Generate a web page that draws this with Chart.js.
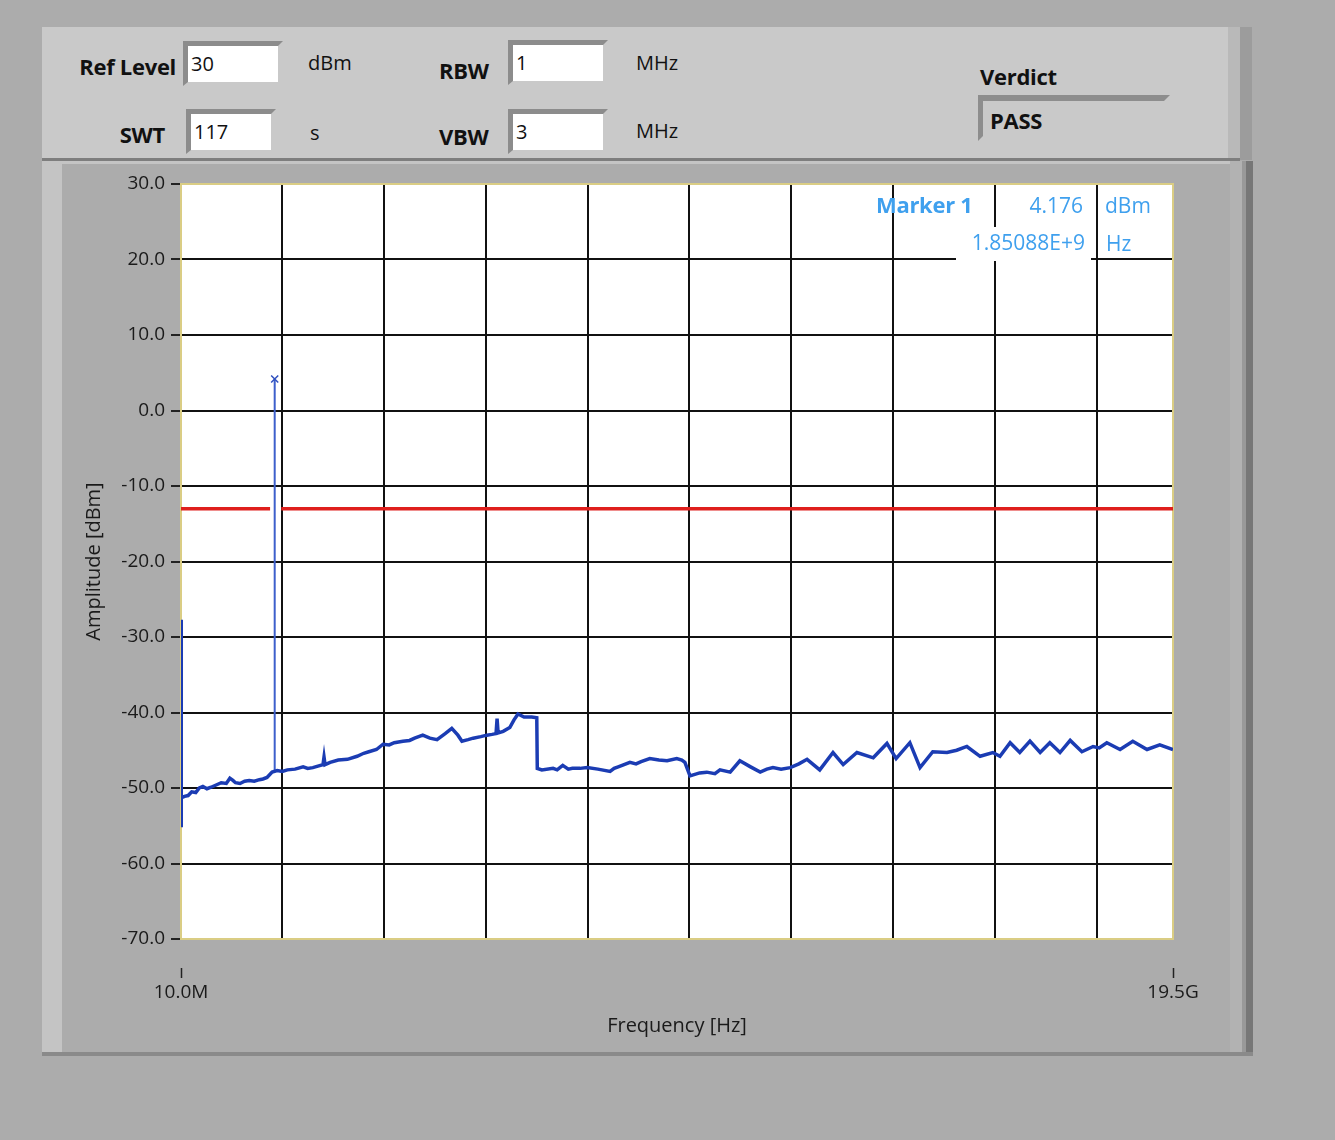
<!DOCTYPE html>
<html>
<head>
<meta charset="utf-8">
<script src="https://cdn.jsdelivr.net/npm/chart.js@4.4.1/dist/chart.umd.min.js"></script>
<style>
  html, body { margin: 0; padding: 0; }
  body {
    width: 1335px; height: 1140px; overflow: hidden; position: relative;
    background: #acacac; font-family: 'Open Sans', 'Noto Sans', sans-serif; color: #111;
  }
  .abs { position: absolute; }
  .lbl { position: absolute; font-size: 20px; line-height: 24px; white-space: nowrap; }
  .b { font-weight: bold; font-size: 22px; letter-spacing: -0.3px; }
  .field {
    position: absolute; box-sizing: border-box; background: #fff; background-clip: padding-box;
    border-top: 5px solid #8c8c8c; border-left: 5px solid #8c8c8c;
    border-right: 5px solid transparent; border-bottom: 4px solid transparent;
    font-size: 20px; line-height: 36px; padding-left: 3px;
  }
  .readout { position: absolute; color: #3fa0ee; font-size: 21px; line-height: 30px; white-space: nowrap; box-sizing: border-box; }
  .readout.bg { background: #fff; }
</style>
</head>
<body>
<!-- instrument frame -->
<div class="abs" style="left:42px;top:27px;width:1188px;height:133px;background:#c9c9c9;"></div>
<div class="abs" style="left:1228px;top:27px;width:12px;height:133px;background:#b9b9b9;"></div>
<div class="abs" style="left:1240px;top:27px;width:12px;height:133px;background:#9c9c9c;"></div>
<div class="abs" style="left:42px;top:158px;width:1198px;height:3px;background:#7e7e7e;"></div>
<div class="abs" style="left:42px;top:161px;width:1188px;height:4px;background:#c4c4c4;"></div>
<div class="abs" style="left:42px;top:161px;width:20px;height:892px;background:#c4c4c4;"></div>
<div class="abs" style="left:1230px;top:161px;width:12px;height:892px;background:#b2b2b2;"></div>
<div class="abs" style="left:1242px;top:161px;width:4px;height:892px;background:#999;"></div>
<div class="abs" style="left:1246px;top:161px;width:7px;height:895px;background:#777;"></div>
<div class="abs" style="left:42px;top:1052px;width:1211px;height:4px;background:#8a8a8a;"></div>

<!-- control panel -->
<div class="lbl b" style="left:30px;width:146px;text-align:right;top:54px;">Ref Level</div>
<div class="field" style="left:183px;top:41px;width:100px;height:45px;">30</div>
<div class="lbl" style="left:308px;top:51px;">dBm</div>

<div class="lbl b" style="left:40px;width:125px;text-align:right;top:122px;">SWT</div>
<div class="field" style="left:186px;top:109px;width:90px;height:45px;">117</div>
<div class="lbl" style="left:310px;top:121px;">s</div>

<div class="lbl b" style="left:439px;top:58px;">RBW</div>
<div class="field" style="left:508px;top:40px;width:100px;height:45px;">1</div>
<div class="lbl" style="left:636px;top:51px;">MHz</div>

<div class="lbl b" style="left:439px;top:124px;">VBW</div>
<div class="field" style="left:508px;top:109px;width:100px;height:45px;">3</div>
<div class="lbl" style="left:636px;top:119px;">MHz</div>

<div class="lbl b" style="left:980px;top:64px;">Verdict</div>
<div class="abs" style="left:978px;top:95px;width:192px;height:46px;box-sizing:border-box;border-top:6px solid #8d8d8d;border-left:5px solid #8d8d8d;border-right:6px solid transparent;border-bottom:5px solid transparent;"></div>
<div class="lbl b" style="left:990px;top:108px;" id="verdict"></div>

<!-- chart -->
<div class="abs" style="left:62px;top:164px;width:1168px;height:888px;background:#acacac;">
  <canvas id="spectrum"></canvas>
</div>

<!-- marker readout -->
<div class="readout" id="mk-name" style="left:876px;top:189px;font-weight:bold;font-size:22px;letter-spacing:-0.3px;"></div>
<div class="readout bg" id="mk-level" style="left:1000px;top:190px;width:91px;height:32px;text-align:right;padding-right:8px;"></div>
<div class="readout bg" style="left:1100px;top:190px;width:62px;height:32px;padding-left:5px;">dBm</div>
<div class="readout bg" id="mk-freq" style="left:956px;top:227px;width:135px;height:34px;text-align:right;padding-right:6px;"></div>
<div class="readout bg" style="left:1100px;top:228px;width:45px;height:28px;padding-left:6px;">Hz</div>

<script>
// sweep trace (GHz / dBm)
const traceFreqGHz = [
  0.01, 0.01, 0.02, 0.08, 0.15, 0.22, 0.30, 0.37, 0.44, 0.52, 0.60, 0.70, 0.80, 0.90, 0.97, 1.03, 1.08, 1.17,
  1.26, 1.35, 1.45, 1.55, 1.62, 1.70, 1.80, 1.90, 2.00, 2.10, 2.25, 2.41, 2.50, 2.60, 2.70, 2.80, 2.82, 2.84,
  2.94, 3.10, 3.28, 3.47, 3.60, 3.70, 3.85, 3.98, 4.10, 4.20, 4.37, 4.50, 4.60, 4.76, 4.90, 5.04, 5.20, 5.33,
  5.45, 5.53, 5.65, 5.75, 5.90, 6.02, 6.12, 6.20, 6.22, 6.24, 6.34, 6.47, 6.55, 6.63, 6.75, 6.90, 7.00,
  7.01, 7.10, 7.32, 7.40, 7.51, 7.62, 7.70, 7.85, 7.99, 8.20, 8.44, 8.52, 8.60, 8.83, 8.95, 9.05, 9.22, 9.40,
  9.56, 9.75, 9.85, 9.91, 10.01, 10.20, 10.34, 10.50, 10.60, 10.80, 10.99, 11.20, 11.39, 11.52, 11.64, 11.80,
  11.98, 12.15, 12.31, 12.56, 12.82, 13.02, 13.29, 13.61, 13.88, 14.06, 14.33, 14.53, 14.78, 15.06, 15.25,
  15.45, 15.71, 15.96, 16.10, 16.30, 16.49, 16.69, 16.89, 17.08, 17.28, 17.48, 17.71, 17.93, 18.05, 18.20,
  18.46, 18.71, 18.99, 19.24, 19.50
];
const traceLevelDbm = [
  -27.7, -55.2, -51.3, -51.1, -51.0, -50.5, -50.6, -50.0, -49.8, -50.1, -49.9, -49.6, -49.3, -49.4, -48.7, -49.0, -49.3, -49.4,
  -49.1, -49.0, -49.1, -48.9, -48.8, -48.6, -47.9, -47.7, -47.8, -47.6, -47.5, -47.2, -47.4, -47.3, -47.1, -46.9, -45.9, -46.9,
  -46.6, -46.3, -46.2, -45.8, -45.4, -45.2, -44.9, -44.2, -44.3, -44.0, -43.8, -43.7, -43.4, -43.0, -43.4, -43.6, -42.8, -42.1,
  -43.0, -43.8, -43.6, -43.4, -43.2, -43.0, -42.9, -42.8, -40.8, -42.7, -42.5, -42.0, -41.0, -40.2, -40.6, -40.6, -40.7,
  -47.4, -47.6, -47.4, -47.6, -47.0, -47.5, -47.4, -47.4, -47.3, -47.5, -47.8, -47.4, -47.2, -46.6, -46.8, -46.5, -46.1, -46.3,
  -46.4, -46.1, -46.3, -46.6, -48.4, -48.0, -47.9, -48.1, -47.6, -47.9, -46.4, -47.2, -47.9, -47.5, -47.3, -47.5,
  -47.3, -46.8, -46.2, -47.6, -45.3, -46.9, -45.3, -46.0, -44.1, -46.1, -44.0, -47.3, -45.2, -45.3, -45.0,
  -44.5, -45.8, -45.3, -45.8, -44.0, -45.3, -43.8, -45.3, -44.0, -45.3, -43.7, -45.2, -44.5, -44.7, -44.0,
  -44.9, -43.8, -44.9, -44.3, -44.9
];

// limit line (gap where the marker sits)
const limitFreqGHz = [0.01, 1.76, 1.87, 1.98, 19.5];
const limitLevelDbm = [-13, -13, null, -13, -13];

// marker 1
const markerName = 'Marker 1';
const markerFreqHz = 1.85088e9;
const markerLevelDbm = 4.176;
const markerFootDbm = -47.8;

// axes
const freqRangeGHz = [0.01, 19.5];
const freqGridGHz = [2, 4, 6, 8, 10, 12, 14, 16, 18];
const levelTicksDbm = [30, 20, 10, 0, -10, -20, -30, -40, -50, -60, -70];

const verdict = 'PASS';

document.getElementById('verdict').innerText = verdict;
document.getElementById('mk-name').innerText = markerName;
document.getElementById('mk-level').innerText = markerLevelDbm.toFixed(3);
document.getElementById('mk-freq').innerText = markerFreqHz.toExponential(5).toUpperCase();

function zip(xs, ys) {
  return xs.map((x, i) => ({ x: x, y: ys[i] }));
}

function freqLabel(v) {
  if (v < 1) return (v * 1000).toFixed(1) + 'M';
  return v.toFixed(1) + 'G';
}

const plotFrame = {
  id: 'plotFrame',
  beforeDraw(chart) {
    const { ctx, chartArea: a } = chart;
    ctx.save();
    ctx.fillStyle = '#ffffff';
    ctx.fillRect(a.left, a.top, a.width, a.height);
    ctx.restore();
  },
  beforeDatasetsDraw(chart) {
    const { ctx, chartArea: a } = chart;
    const xs = chart.scales.x;
    ctx.save();
    ctx.strokeStyle = '#dacd84';
    ctx.lineWidth = 2;
    ctx.strokeRect(a.left, a.top, a.width, a.height);
    // the two end ticks under the plot
    ctx.strokeStyle = '#222';
    ctx.lineWidth = 1.5;
    freqRangeGHz.forEach(v => {
      const px = Math.round(xs.getPixelForValue(v)) + 0.5;
      ctx.beginPath();
      ctx.moveTo(px, a.bottom + 29);
      ctx.lineTo(px, a.bottom + 39);
      ctx.stroke();
    });
    ctx.restore();
  }
};

Chart.defaults.font.family = "'Open Sans', 'Noto Sans', sans-serif";
Chart.defaults.color = '#1a1a1a';

const chart = new Chart(document.getElementById('spectrum'), {
  type: 'line',
  data: {
    datasets: [
      {
        label: 'Limit',
        data: zip(limitFreqGHz, limitLevelDbm),
        borderColor: '#df1f1c',
        borderWidth: 3.5,
        pointRadius: 0,
        spanGaps: false
      },
      {
        label: 'Trace',
        data: zip(traceFreqGHz, traceLevelDbm),
        borderColor: '#1b3cb3',
        borderWidth: 3.5,
        pointRadius: 0,
        tension: 0
      },
      {
        label: markerName,
        data: zip([markerFreqHz / 1e9, markerFreqHz / 1e9], [markerFootDbm, markerLevelDbm]),
        borderColor: '#3d5fcb',
        borderWidth: 2,
        pointRadius: [0, 5],
        pointStyle: 'crossRot',
        pointBorderColor: '#2f50bf',
        pointBorderWidth: 1.5
      }
    ]
  },
  options: {
    responsive: true,
    maintainAspectRatio: false,
    animation: false,
    layout: { padding: { left: 0, right: 57, top: 20, bottom: 0 } },
    plugins: {
      legend: { display: false },
      tooltip: { enabled: false }
    },
    scales: {
      x: {
        type: 'linear',
        min: freqRangeGHz[0],
        max: freqRangeGHz[1],
        afterBuildTicks: (scale) => {
          scale.ticks = [freqRangeGHz[0], ...freqGridGHz, freqRangeGHz[1]].map(v => ({ value: v }));
        },
        afterFit: (scale) => {
          scale.height = 113;
          scale.paddingLeft = 0;
          scale.paddingRight = 0;
        },
        border: { display: false },
        grid: {
          color: (c) => (freqRangeGHz.includes(c.tick.value) ? 'rgba(0,0,0,0)' : '#111'),
          lineWidth: 2,
          drawTicks: false
        },
        ticks: {
          autoSkip: false,
          maxRotation: 0,
          padding: 42,
          font: { size: 19 },
          callback: (v) => (freqRangeGHz.includes(v) ? freqLabel(v) : '')
        },
        title: {
          display: true,
          text: 'Frequency [Hz]',
          font: { size: 20 },
          padding: { top: 0, bottom: 14 }
        }
      },
      y: {
        min: -70,
        max: 30,
        afterBuildTicks: (scale) => {
          scale.ticks = levelTicksDbm.map(v => ({ value: v }));
        },
        afterFit: (scale) => {
          scale.width = 119;
          scale.paddingTop = 0;
          scale.paddingBottom = 0;
        },
        border: { display: false },
        grid: {
          color: (c) => (c.tick.value === 30 || c.tick.value === -70 ? 'rgba(0,0,0,0)' : '#111'),
          lineWidth: 2,
          tickColor: '#222',
          tickLength: 10
        },
        ticks: {
          padding: 6,
          font: { size: 19 },
          callback: (v) => v.toFixed(1)
        },
        title: {
          display: true,
          text: 'Amplitude [dBm]',
          font: { size: 20 },
          padding: { top: 20, bottom: 0 }
        }
      }
    }
  },
  plugins: [plotFrame]
});
</script>
</body>
</html>
